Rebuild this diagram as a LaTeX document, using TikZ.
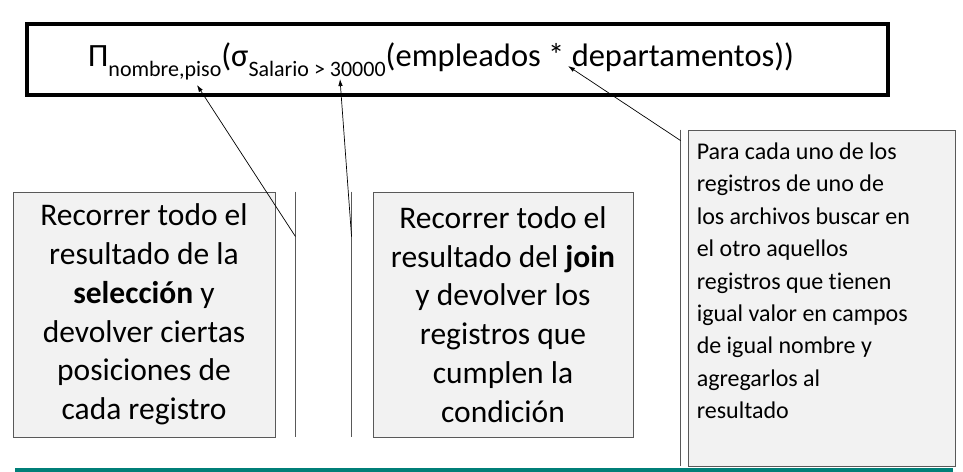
\documentclass[tikz,border=0pt]{standalone}
\usepackage{fontspec}
\setmainfont{Carlito}[Ligatures=NoCommon]
\usetikzlibrary{arrows.meta,positioning,calc}
\definecolor{boxgray}{HTML}{F2F2F2}
\definecolor{bargray}{HTML}{595959}
\definecolor{tealline}{HTML}{007F78}
\newcommand{\subidx}[1]{\raisebox{-10pt}{\fontsize{22}{22}\selectfont #1}}

\begin{document}
\begin{tikzpicture}[x=1pt, y=-1pt,
    opbox/.style={draw=bargray, fill=boxgray, line width=0.9pt, minimum width=262pt, minimum height=245pt, align=center, font=\fontsize{31.5}{38.8}\selectfont},
    bar/.style={draw=bargray, line width=1.2pt},
    leader/.style={line width=0.7pt, -{Latex[length=7pt,width=4.5pt]}}]
    \useasboundingbox (0,0) rectangle (963,471);
    % expression
    \node [draw, line width=3.5pt, minimum width=861pt, minimum height=71pt] (expr) at (457.5,59.5) {};
    \node [anchor=base west, inner sep=0pt, font=\fontsize{32.5}{32.5}\selectfont] (formula) at (88,66) {Π\subidx{nombre,piso}(σ\subidx{Salario > 30000}(empleados * departamentos))};
    \coordinate (pisoTip) at (197,85);
    \coordinate (condTip) at (340,79);
    \coordinate (joinTip) at (568,66);
    % callouts
    \node [opbox] (selBox) at (144,314.5) {Recorrer todo el\\resultado de la\\\textbf{selección} y\\devolver ciertas\\posiciones de\\cada registro};
    \node [opbox, minimum width=260pt] (joinBox) at (503,314.5) {Recorrer todo el\\resultado del \textbf{join}\\y devolver los\\registros que\\cumplen la\\condición};
    \node [opbox, minimum width=267pt, minimum height=336pt] (natBox) at (821.5,298) {};
    \node [anchor=north west, align=left, inner sep=0pt, font=\fontsize{24}{32.4}\selectfont] (natText) at ([shift={(9pt,-13pt)}]natBox.north west) {Para cada uno de los\\registros de uno de\\los archivos buscar en\\el otro aquellos\\registros que tienen\\igual valor en campos\\de igual nombre y\\agregarlos al\\resultado};
    \coordinate (selBar) at ([xshift=20pt]selBox.north east);
    \coordinate (joinBar) at ([xshift=-21pt]joinBox.north west);
    \coordinate (natBar) at ([xshift=-7pt]natBox.north west);
    \draw [bar] (selBar) -- (selBar |- selBox.south);
    \draw [bar] (joinBar) -- (joinBar |- joinBox.south);
    \draw [bar] (natBar) -- (natBar |- natBox.south);
    \draw [leader] ([yshift=-45pt]selBar) -- (pisoTip);
    \draw [leader] ([yshift=-45pt]joinBar) -- (condTip);
    \draw [leader] ([yshift=-11pt]natBar) -- (joinTip);
    \draw [tealline, line width=4pt] (15,469.5) -- (953,469.5);
\end{tikzpicture}
\end{document}
